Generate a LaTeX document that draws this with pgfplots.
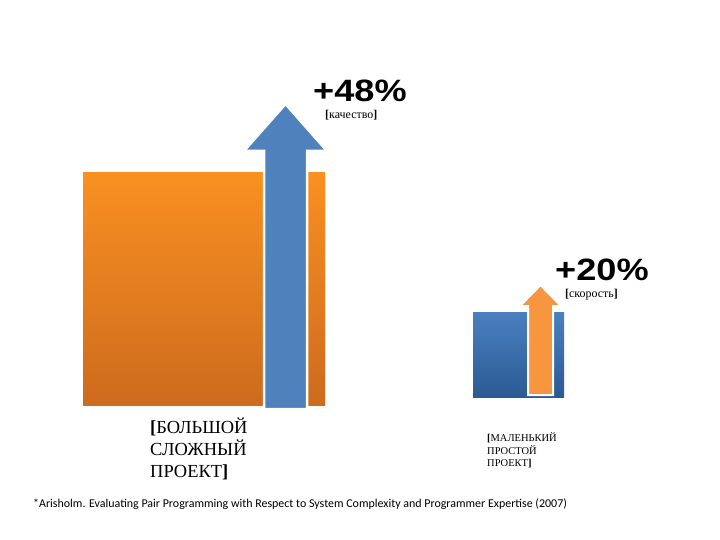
\documentclass[border=0pt]{standalone}
\usepackage{fontspec}
\setmainfont{Liberation Serif}
\newfontfamily\heavyfont{Liberation Sans}
\newfontfamily\calfont{Carlito}
\usepackage{pgfplots}
\pgfplotsset{compat=1.18}
\definecolor{orTop}{HTML}{F99021}
\definecolor{orBot}{HTML}{CD6B1E}
\definecolor{blTop}{HTML}{4A80C0}
\definecolor{blBot}{HTML}{2B5A94}
\definecolor{blArrow}{HTML}{4F81BD}
\definecolor{orArrow}{HTML}{F7963F}
\begin{document}
\begin{tikzpicture}
\begin{axis}[
  scale only axis, width=720bp, height=540bp,
  xmin=0, xmax=720, ymin=0, ymax=540, y dir=reverse,
  hide axis, clip=false]
\path[draw=none] (rel axis cs:0,0) rectangle (rel axis cs:1,1);
% big project bar
\addplot[draw=none, top color=orTop, bottom color=orBot]
  coordinates {(83,173) (325,173) (325,405) (83,405)} --cycle;
% small project bar
\addplot[draw=none, top color=blTop, bottom color=blBot]
  coordinates {(473,312) (564,312) (564,397) (473,397)} --cycle;
% +48% arrow
\addplot[draw=white, line width=2.5bp, fill=blArrow, line join=miter]
  coordinates {(264,409) (307,409) (307,151) (327,151) (285.5,104) (244,151) (264,151)} --cycle;
% +20% arrow
\addplot[draw=white, line width=2bp, fill=orArrow, line join=miter]
  coordinates {(528,395) (553,395) (553,306) (561,306) (540.5,285) (520,306) (528,306)} --cycle;
\node[font=\heavyfont\bfseries\fontsize{31}{31}\selectfont, anchor=base west, inner sep=0, xscale=1.17] at (axis cs:313,102) {+48\%};
\node[font=\fontsize{12}{12}\selectfont, anchor=base west, inner sep=0] at (axis cs:325,119) {{\bfseries[}качество{\bfseries]}};
\node[font=\heavyfont\bfseries\fontsize{31}{31}\selectfont, anchor=base west, inner sep=0, xscale=1.17] at (axis cs:555,281) {+20\%};
\node[font=\fontsize{12}{12}\selectfont, anchor=base west, inner sep=0] at (axis cs:565,297) {{\bfseries[}скорость{\bfseries]}};
\node[font=\fontsize{18.5}{22}\selectfont, anchor=north west, align=left, inner sep=0] at (axis cs:150,418)
  {{\bfseries[}БОЛЬШОЙ\\СЛОЖНЫЙ\\ПРОЕКТ{\bfseries]}};
\node[font=\fontsize{10.5}{13}\selectfont, anchor=north west, align=left, inner sep=0] at (axis cs:487,432)
  {{\bfseries[}МАЛЕНЬКИЙ\\ПРОСТОЙ\\ПРОЕКТ{\bfseries]}};
\node[font=\calfont\fontsize{12}{12}\selectfont, anchor=base west, inner sep=0] at (axis cs:33,507)
  {*Arisholm. Evaluating Pair Programming with Respect to System Complexity and Programmer Expertise (2007)};
\end{axis}
\end{tikzpicture}
\end{document}
